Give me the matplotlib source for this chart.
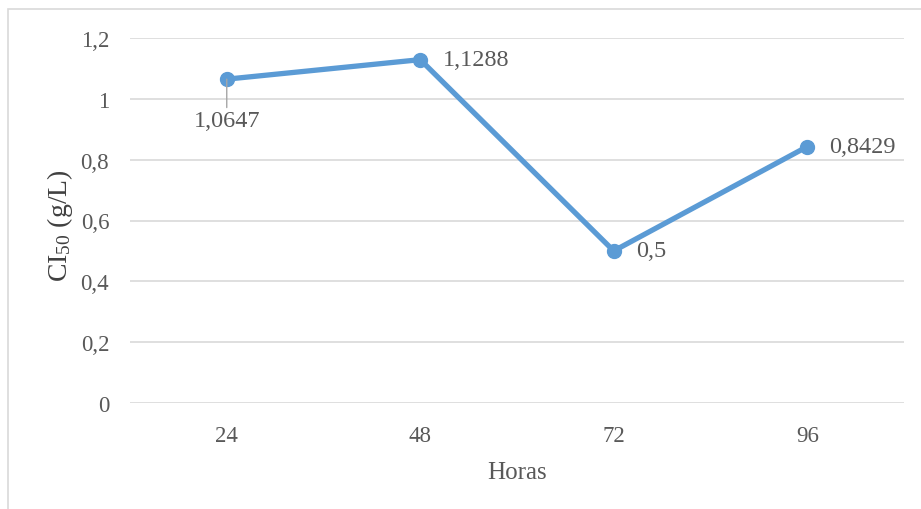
import matplotlib
matplotlib.use("Agg")
import matplotlib.pyplot as plt
from matplotlib.patches import Rectangle

# Données
horas = ["24", "48", "72", "96"]
ci50 = [1.0647, 1.1288, 0.5, 0.8429]
etiquettes = ["1,0647", "1,1288", "0,5", "0,8429"]
yticks = [0, 0.2, 0.4, 0.6, 0.8, 1.0, 1.2]
yticklabels = ["0", "0,2", "0,4", "0,6", "0,8", "1", "1,2"]

plt.rcParams["font.family"] = ["Liberation Serif", "DejaVu Serif"]
plt.rcParams["mathtext.fontset"] = "custom"
plt.rcParams["mathtext.rm"] = "Liberation Serif"
plt.rcParams["mathtext.it"] = "Liberation Serif:italic"

gris_texte = "#595959"
gris_grille = "#d9d9d9"
bleu = "#5b9bd5"

fig = plt.figure(figsize=(9.21, 5.10), dpi=100)
ax = fig.add_axes([130 / 921, 1 - 404 / 510, (904 - 130) / 921, (404 - 39) / 510])

# Cadre du graphique (coupé à droite et en bas)
fig.patches.append(Rectangle((8 / 921, -0.1), 1.2, 1.1 - 10 / 510, transform=fig.transFigure,
                             fill=False, edgecolor=gris_grille, linewidth=1.2))

x = list(range(len(horas)))
ax.plot(x, ci50, color=bleu, linewidth=3.8, marker="o", markersize=10, zorder=3)

ax.set_xlim(-0.5, len(horas) - 0.5)
ax.set_ylim(0, 1.2)
ax.set_yticks(yticks)
ax.set_yticklabels(yticklabels)
ax.set_xticks(x)
ax.set_xticklabels(horas)
ax.grid(axis="y", color=gris_grille, linewidth=1.2)
ax.set_axisbelow(True)
for s in ax.spines.values():
    s.set_visible(False)
ax.tick_params(length=0, labelsize=16.5, labelcolor=gris_texte)
ax.tick_params(axis="y", pad=15)
ax.tick_params(axis="x", pad=16)

ax.set_xlabel("Horas", fontsize=18, color=gris_texte, labelpad=11)
ax.set_ylabel(r"CI$_{50}$ (g/L)", fontsize=20, color="#404040", labelpad=4)
# le titre de l'axe y est un peu au-dessus du centre
ax.yaxis.label.set_position((0, (404 - 226) / 365))

# Étiquettes de données
ax.annotate(etiquettes[0], (x[0], ci50[0]), xytext=(0, -30), textcoords="offset points",
            ha="center", va="center", fontsize=17.5, color=gris_texte,
            arrowprops=dict(arrowstyle="-", color="#a6a6a6", lw=1, shrinkA=0, shrinkB=0,
                            relpos=(0.5, 1.0)))
for i in range(1, len(horas)):
    ax.annotate(etiquettes[i], (x[i], ci50[i]), xytext=(16, 0), textcoords="offset points",
                ha="left", va="center", fontsize=17.5, color=gris_texte)

fig.savefig("out.png", dpi=100)
